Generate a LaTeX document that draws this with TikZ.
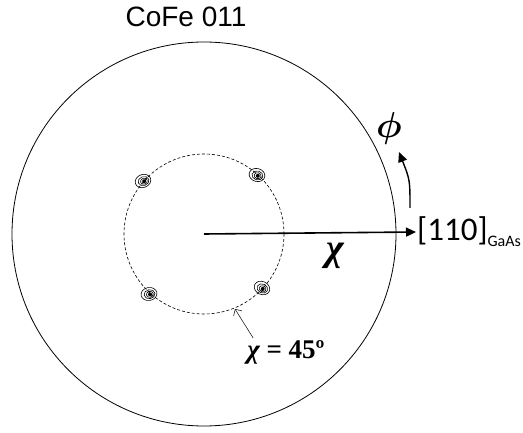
\documentclass[tikz,border=0pt]{standalone}
\usepackage{amsmath,amssymb}
\usepackage{fontspec}
\setmainfont{Liberation Serif}
\newfontfamily\arialf{Liberation Sans}
\newfontfamily\calibrif{Carlito}
\usetikzlibrary{arrows.meta,calc}

\begin{document}
\begin{tikzpicture}[x=1pt, y=-1pt, every node/.style={inner sep=0pt}]
	\useasboundingbox (0,0) rectangle (523,433);
	\coordinate (O) at (204,234);
	\draw[line width=0.8pt] (O) circle[radius=192];
	\draw[densely dashed, line width=0.6pt] (O) circle[radius=80];
	% pole spots
	\foreach \dx/\dy/\r in {-61/-53/20, 53/-59/-15, -55/60/10, 58/54/-25} {
		\begin{scope}[shift={($(O)+(\dx,\dy)$)}, rotate=\r]
			\draw[line width=0.6pt] (0,0) ellipse[x radius=8, y radius=6.5];
			\draw[line width=0.6pt] (0.5,0.3) ellipse[x radius=5.5, y radius=4.5];
			\draw[line width=0.6pt] (0.8,0.5) ellipse[x radius=3.5, y radius=3];
			\fill (1,0.6) circle[radius=2];
		\end{scope}
	}
	\node (title) at (186,17) {\arialf\fontsize{28}{28}\selectfont CoFe 011};
	\coordinate (tip) at (416,232);
	\draw[line width=1.6pt, -{Triangle[length=10pt, width=9pt]}] (O) -- (tip);
	\node[anchor=west] (gaas) at ([xshift=1pt]tip) {\calibrif\fontsize{33}{33}\selectfont [110]\raisebox{-6pt}{\fontsize{16}{16}\selectfont GaAs}};
	\node (chi) at (335,256) {\fontsize{38}{38}\selectfont\bfseries\itshape χ};
	\coordinate (phistart) at (410,208);
	\coordinate (phiend) at (399,152);
	\draw[line width=1.4pt, -{Triangle[length=10pt, width=9pt]}] (phistart) .. controls (410,180) .. (phiend);
	\node (phi) at (389,129) {\scalebox{3.6}{\boldmath$\phi$}};
	\node (chi45) at (286,352) {\fontsize{27}{27}\selectfont\bfseries{\itshape χ} = 45º};
	\coordinate (ring) at (235,309);
	\draw[line width=0.5pt, -{Straight Barb[length=5pt]}] ($(chi45.north west)+(6,-2)$) -- (ring);
\end{tikzpicture}
\end{document}
